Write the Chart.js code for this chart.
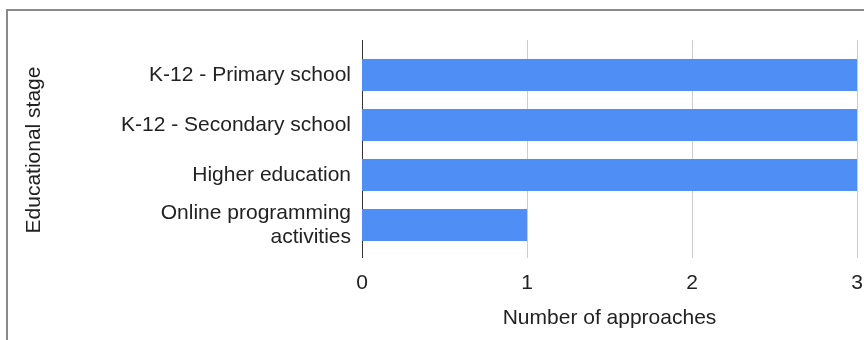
<!DOCTYPE html>
<html>
<head>
<meta charset="utf-8">
<script src="https://cdn.jsdelivr.net/npm/chart.js@4/dist/chart.umd.min.js"></script>
<style>
  body { margin: 0; background: #fff; }
  #wrap { position: relative; width: 864px; height: 340px; overflow: hidden; }
  #frame { position: absolute; left: 6px; top: 9px; width: 1000px; height: 500px;
           border-left: 2px solid #8a8a8a; border-top: 2px solid #8a8a8a; }
  #stageChart { position: absolute; left: 0; top: 0; }
</style>
</head>
<body>
<div id="wrap">
  <div id="frame"></div>
  <canvas id="stageChart" width="864" height="340"></canvas>
</div>
<script>
// Chart data
const stages = [
    'K-12 - Primary school',
    'K-12 - Secondary school',
    'Higher education',
    ['Online programming', 'activities']
];
const approaches = [3, 3, 3, 1];
const xTicks = [0, 1, 2, 3];

const fontFamily = 'Arial, "Liberation Sans", sans-serif';

// Gridlines reach a bit past the bar band, like the original
const gridPlugin = {
    id: 'gridLines',
    beforeDatasetsDraw(chart) {
        const c = chart.ctx;
        const x = chart.scales.x;
        const area = chart.chartArea;
        c.save();
        c.lineWidth = 1;
        xTicks.forEach(v => {
            const px = Math.round(x.getPixelForValue(v)) + 0.5;
            c.strokeStyle = v === 0 ? '#333333' : '#cccccc';
            c.beginPath();
            c.moveTo(px, area.top - 10);
            c.lineTo(px, area.bottom + 8);
            c.stroke();
        });
        c.restore();
    }
};

const ctx = document.getElementById('stageChart').getContext('2d');
const stageChart = new Chart(ctx, {
    type: 'bar',
    data: {
        labels: stages,
        datasets: [{
            label: 'Number of approaches',
            data: approaches,
            backgroundColor: '#4f8ef4',
            borderWidth: 0,
            barPercentage: 0.64,
            categoryPercentage: 1
        }]
    },
    options: {
        indexAxis: 'y',
        responsive: false,
        animation: false,
        layout: { padding: { top: 50, right: 7, left: 0, bottom: 0 } },
        plugins: {
            legend: { display: false },
            tooltip: { enabled: false }
        },
        scales: {
            x: {
                min: 0,
                max: 3,
                afterBuildTicks(scale) {
                    scale.ticks = xTicks.map(v => ({ value: v }));
                },
                afterFit(scale) {
                    scale.height = 90;
                    scale.paddingLeft = 0;
                    scale.paddingRight = 0;
                },
                grid: { display: false, drawTicks: false },
                border: { display: false },
                ticks: {
                    padding: 21,
                    color: '#222',
                    font: { family: fontFamily, size: 21 }
                },
                title: {
                    display: true,
                    text: 'Number of approaches',
                    color: '#222',
                    font: { family: fontFamily, size: 21 },
                    padding: { top: 0, bottom: 9 }
                }
            },
            y: {
                afterFit(scale) {
                    scale.width = 362;
                    scale.paddingTop = 0;
                    scale.paddingBottom = 0;
                },
                grid: { display: false, drawTicks: false },
                border: { display: false },
                ticks: {
                    autoSkip: false,
                    padding: 11,
                    color: '#222',
                    font: { family: fontFamily, size: 21, lineHeight: 1.12 }
                },
                title: {
                    display: true,
                    text: 'Educational stage',
                    color: '#222',
                    font: { family: fontFamily, size: 21 },
                    padding: { top: 22, bottom: 0 }
                }
            }
        }
    },
    plugins: [gridPlugin]
});
</script>
</body>
</html>
